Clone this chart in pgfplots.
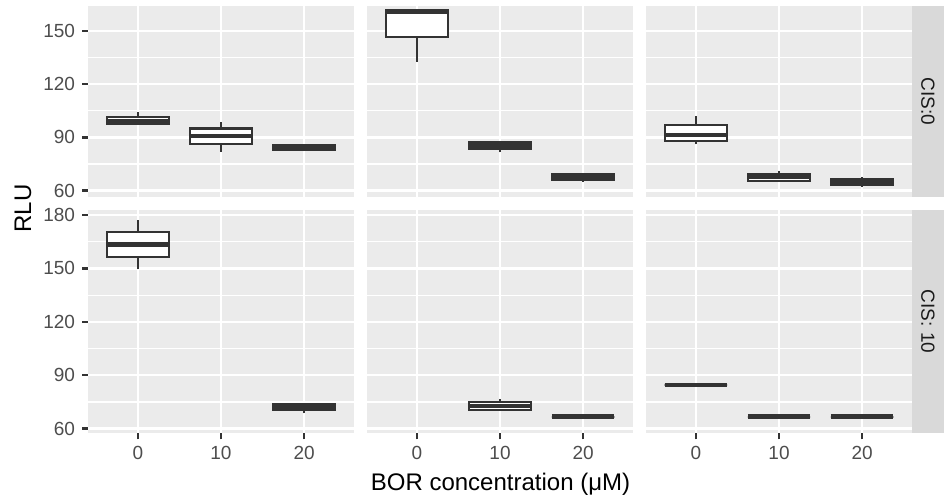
\documentclass[border=0pt]{standalone}
\usepackage{fontspec}
\setmainfont{Liberation Sans}
\usepackage{pgfplots}
\pgfplotsset{compat=1.18}
\definecolor{panelbg}{HTML}{EBEBEB}
\definecolor{stripbg}{HTML}{D9D9D9}
\definecolor{gtwenty}{HTML}{333333}
\definecolor{gthirty}{HTML}{4D4D4D}
\definecolor{gten}{HTML}{1A1A1A}
\pgfplotsset{
  panel/.style={
    scale only axis, width=133bp, anchor=south west,
    xmin=0.4, xmax=3.6,
    axis background/.style={fill=panelbg},
    axis line style={draw=none},
    xtick={1,2,3}, xticklabels={0,10,20},
    grid=both,
    major grid style={white, line width=1.18bp},
    minor grid style={white, line width=0.59bp},
    tick align=outside,
    xtick pos=bottom, ytick pos=left,
    major tick length=3bp, minor tick length=0pt,
    major tick style={gtwenty, line width=1.18bp},
    tick label style={font=\fontsize{9.5bp}{11bp}\selectfont, text=gthirty},
  },
  row1/.style={height=95.35bp, ymin=56.6, ymax=163.9,
    ytick={60,90,120,150}, yticklabels={60,90,120,150}, minor ytick={75,105,135}},
  row2/.style={height=111.65bp, ymin=57.4, ymax=182.8,
    ytick={60,90,120,150,180}, yticklabels={60,90,120,150,180}, minor ytick={75,105,135,165}},
  noy/.style={ymajorticks=false},
  nox/.style={xmajorticks=false},
  bl/.style={gtwenty, line width=1.18bp, mark=none},
}
% box: left, centre, right, lower whisker, lower quartile, median, upper quartile, upper whisker
\newcommand{\bxp}[8]{%
  \addplot[bl] coordinates {(#2,#4) (#2,#5)};
  \addplot[bl] coordinates {(#2,#7) (#2,#8)};
  \addplot[bl, fill=white] coordinates {(#1,#5) (#3,#5) (#3,#7) (#1,#7)} -- cycle;
  \addplot[bl, line width=2.35bp] coordinates {(#1,#6) (#3,#6)};
}
\begin{document}
\begin{tikzpicture}
\path[use as bounding box] (0,0) rectangle (472bp,250bp);
% Row 1: CIS:0
\begin{axis}[panel, row1, nox, at={(44bp,151.65bp)}]
\bxp{0.625}{1}{1.375}{97.5}{97.5}{98.8}{101.3}{104.0}
\bxp{1.625}{2}{2.375}{82.0}{86.3}{90.8}{94.9}{98.6}
\bxp{2.625}{3}{3.375}{82.3}{83.0}{84.0}{85.4}{85.4}
\end{axis}
\begin{axis}[panel, row1, nox, noy, at={(183.5bp,151.65bp)}]
\bxp{0.625}{1}{1.375}{132.6}{146.3}{160.8}{161.5}{161.5}
\bxp{1.625}{2}{2.375}{81.5}{83.3}{85.3}{87.2}{87.2}
\bxp{2.625}{3}{3.375}{65.1}{66.0}{67.2}{69.0}{69.0}
\end{axis}
\begin{axis}[panel, row1, nox, noy, at={(323bp,151.65bp)}]
\bxp{0.625}{1}{1.375}{86.1}{88.0}{91.3}{97.0}{102.2}
\bxp{1.625}{2}{2.375}{65.6}{65.6}{67.7}{69.4}{71.1}
\bxp{2.625}{3}{3.375}{62.2}{63.1}{64.7}{66.6}{67.5}
\end{axis}
% Row 2: CIS: 10
\begin{axis}[panel, row2, at={(44bp,33.35bp)}]
\bxp{0.625}{1}{1.375}{149.6}{156.3}{163.6}{170.3}{177.2}
\bxp{2.625}{3}{3.375}{68.6}{70.5}{72.2}{73.9}{73.9}
\end{axis}
\begin{axis}[panel, row2, noy, at={(183.5bp,33.35bp)}]
\bxp{1.625}{2}{2.375}{70.5}{70.5}{72.7}{74.8}{76.7}
\bxp{2.625}{3}{3.375}{66.7}{66.7}{66.7}{66.7}{66.7}
\end{axis}
\begin{axis}[panel, row2, noy, at={(323bp,33.35bp)}]
\bxp{0.625}{1}{1.375}{84.5}{84.5}{84.5}{84.5}{84.5}
\bxp{1.625}{2}{2.375}{66.7}{66.7}{66.7}{66.7}{66.7}
\bxp{2.625}{3}{3.375}{66.7}{66.7}{66.7}{66.7}{66.7}
\end{axis}
% strips
\fill[stripbg] (456bp,151.65bp) rectangle (472bp,247bp);
\fill[stripbg] (456bp,33.35bp) rectangle (472bp,145bp);
\node[rotate=-90, text=gten, font=\fontsize{9.5bp}{11bp}\selectfont] at (464bp,199.3bp) {CIS:0};
\node[rotate=-90, text=gten, font=\fontsize{9.5bp}{11bp}\selectfont] at (464bp,89.2bp) {CIS: 10};
% titles
\node[rotate=90, font=\fontsize{12bp}{14bp}\selectfont] at (11.5bp,145.75bp) {RLU};
\node[anchor=base, font=\fontsize{12bp}{14bp}\selectfont] at (250.25bp,5bp) {BOR concentration (μM)};
\end{tikzpicture}
\end{document}
